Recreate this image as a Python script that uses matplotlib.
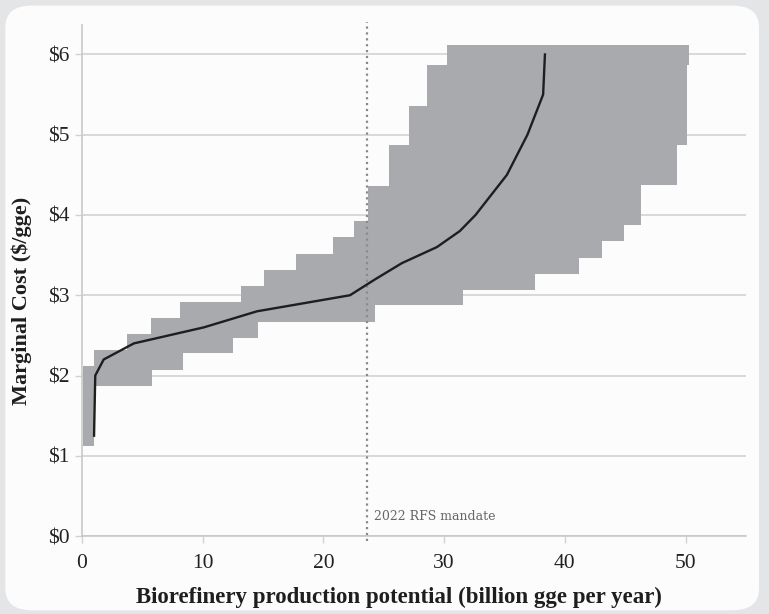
import numpy as np
import matplotlib.pyplot as plt
from matplotlib.patches import FancyBboxPatch

# upper edge of the cost range (step function, held from each x to the next)
upper_x = [0.1, 1.0, 3.7, 5.7, 8.1, 13.2, 15.1, 17.7, 20.8, 22.5, 23.7,
           25.4, 27.1, 28.6, 30.2, 50.3]
upper_cost = [2.12, 2.32, 2.52, 2.72, 2.92, 3.12, 3.31, 3.51, 3.72, 3.92,
              4.36, 4.87, 5.36, 5.87, 6.12]

# lower edge of the cost range
lower_x = [0.1, 1.0, 5.8, 8.4, 12.55, 14.6, 24.3, 31.6, 37.5, 41.2, 43.1,
           44.9, 46.3, 49.3, 50.1, 50.3]
lower_cost = [1.12, 1.87, 2.07, 2.28, 2.47, 2.67, 2.88, 3.07, 3.26, 3.47,
              3.68, 3.87, 4.37, 4.87, 5.87]

# median supply curve
curve_x = [1.0, 1.1, 1.8, 4.3, 10.1, 14.5, 22.2, 24.3, 26.5, 29.4, 31.3,
           32.6, 35.2, 36.9, 38.2, 38.35]
curve_cost = [1.25, 2.0, 2.2, 2.4, 2.6, 2.8, 3.0, 3.2, 3.4, 3.6, 3.8, 4.0,
              4.5, 5.0, 5.5, 6.0]

mandate = 23.6
x_ticks = [0, 10, 20, 30, 40, 50]
y_ticks = [0, 1, 2, 3, 4, 5, 6]

plt.rcParams['font.family'] = ['Liberation Serif', 'DejaVu Serif']

fig = plt.figure(figsize=(7.69, 6.14), dpi=100)
fig.patch.set_facecolor('#e4e5e7')
panel = FancyBboxPatch((0.007, 0.006), 0.98, 0.985,
                       boxstyle='round,pad=0,rounding_size=0.035',
                       transform=fig.transFigure, facecolor='#fcfcfc',
                       edgecolor='none', zorder=-10)
fig.patches.append(panel)

ax = fig.add_axes([0.1066, 0.127, 0.8634, 0.832])
ax.set_facecolor('none')

# put both step edges on one shared set of breakpoints
edges = np.union1d(upper_x, lower_x)
mids = edges[:-1]
top = np.array(upper_cost)[np.searchsorted(upper_x, mids, side='right') - 1]
bottom = np.array(lower_cost)[np.searchsorted(lower_x, mids, side='right') - 1]
ax.stairs(top, edges, baseline=bottom, fill=True, color='#a9aaad',
          linewidth=0, zorder=2)

ax.plot(curve_x, curve_cost, color='#1e1e1e', linewidth=1.7, zorder=4,
        solid_joinstyle='round')

ax.axvline(mandate, ymin=-0.01, ymax=1.006, color='#8a8a8a', linestyle=':',
           linewidth=1.6, clip_on=False, zorder=3)
ax.text(mandate + 0.6, 0.24, '2022 RFS mandate', family='DejaVu Serif',
        fontsize=9, color='#666666', va='center', ha='left', zorder=5)

ax.set_xlim(0, 55)
ax.set_ylim(0, 6.365)
ax.set_xticks(x_ticks)
ax.set_yticks(y_ticks)
ax.set_yticklabels([f'${v}' for v in y_ticks])
ax.yaxis.grid(True, color='#d2d2d2', linewidth=1.2, zorder=1)
ax.set_axisbelow(True)

for side in ('top', 'right'):
    ax.spines[side].set_visible(False)
for side in ('left', 'bottom'):
    ax.spines[side].set_color('#c9c9c9')
    ax.spines[side].set_linewidth(1.2)

ax.tick_params(axis='both', colors='#d2d2d2', labelcolor='#222222',
               labelsize=15.5, length=5, width=1.0)
ax.tick_params(axis='x', pad=8)
ax.tick_params(axis='y', pad=4)

ax.set_xlabel('Biorefinery production potential (billion gge per year)',
              fontsize=16.5, fontweight='bold', color='#1e1e1e')
ax.xaxis.set_label_coords(0.477, -0.1)
ax.set_ylabel('Marginal Cost ($/gge)', fontsize=16, fontweight='bold',
              color='#1e1e1e')
ax.yaxis.set_label_coords(-0.075, 0.46)

fig.savefig('out.png', dpi=100, facecolor=fig.get_facecolor())
